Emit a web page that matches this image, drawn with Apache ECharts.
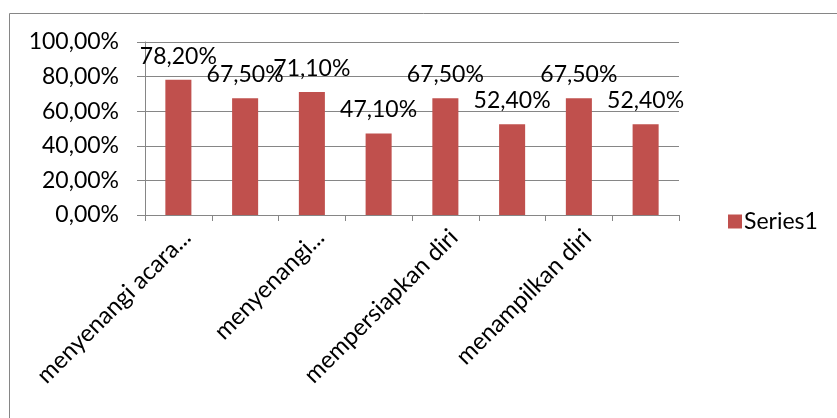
<!DOCTYPE html>
<html>
<head>
<meta charset="utf-8">
<script src="https://cdn.jsdelivr.net/npm/echarts@6/dist/echarts.min.js"></script>
<style>
  html, body { margin: 0; padding: 0; background: #fff; }
  #chart { width: 837px; height: 418px; }
</style>
</head>
<body>
<div id="chart"></div>
<script>
// Category names (only every other one is printed on the axis)
const categories = [
  'menyenangi acara...',
  'mengikuti acara',
  'menyenangi...',
  'menghadiri kegiatan',
  'mempersiapkan diri',
  'melatih diri',
  'menampilkan diri',
  'mengevaluasi diri'
];
// Series1 values, in percent
const series1 = [78.2, 67.5, 71.1, 47.1, 67.5, 52.4, 67.5, 52.4];
// Value axis range and step
const yMin = 0, yMax = 100, yStep = 20;

const fmt = v => v.toFixed(2).replace('.', ',') + '%';
const FONT = 'Lato';
const GREY = '#868686';

const chart = echarts.init(document.getElementById('chart'));
chart.setOption({
  animation: false,
  textStyle: { fontFamily: FONT },
  graphic: [{
    type: 'rect',
    shape: { x: 9.5, y: 13.5, width: 1000, height: 600 },
    style: { fill: 'none', stroke: GREY, lineWidth: 1 },
    silent: true
  }],
  grid: { left: 145, right: 158, top: 42, bottom: 203 },
  legend: {
    data: ['Series1'],
    orient: 'vertical',
    left: 723,
    top: 205,
    itemWidth: 14,
    itemHeight: 14,
    itemGap: 0,
    icon: 'rect',
    textStyle: { fontFamily: FONT, fontSize: 23, color: '#000', padding: [0, 0, 0, -3] }
  },
  xAxis: {
    type: 'category',
    data: categories,
    axisLine: { show: true, lineStyle: { color: GREY, width: 1 } },
    axisTick: { show: true, interval: 0, length: 6, lineStyle: { color: GREY } },
    axisLabel: {
      interval: 1,
      rotate: 45,
      margin: 10,
      verticalAlign: 'top',
      fontFamily: FONT,
      fontSize: 24,
      color: '#000'
    }
  },
  yAxis: {
    type: 'value',
    min: yMin,
    max: yMax,
    interval: yStep,
    axisLine: { show: true, lineStyle: { color: GREY, width: 1 } },
    axisTick: { show: true, length: 8, lineStyle: { color: GREY } },
    splitLine: { show: true, lineStyle: { color: GREY, width: 1 } },
    axisLabel: {
      margin: 26,
      formatter: fmt,
      fontFamily: FONT,
      fontSize: 23,
      color: '#000'
    }
  },
  series: [{
    name: 'Series1',
    type: 'bar',
    data: series1,
    barWidth: '39%',
    itemStyle: { color: '#C0504D' },
    label: {
      show: true,
      position: 'top',
      distance: 12,
      formatter: p => fmt(p.value),
      fontFamily: FONT,
      fontSize: 23,
      color: '#000'
    }
  }]
});
</script>
</body>
</html>
